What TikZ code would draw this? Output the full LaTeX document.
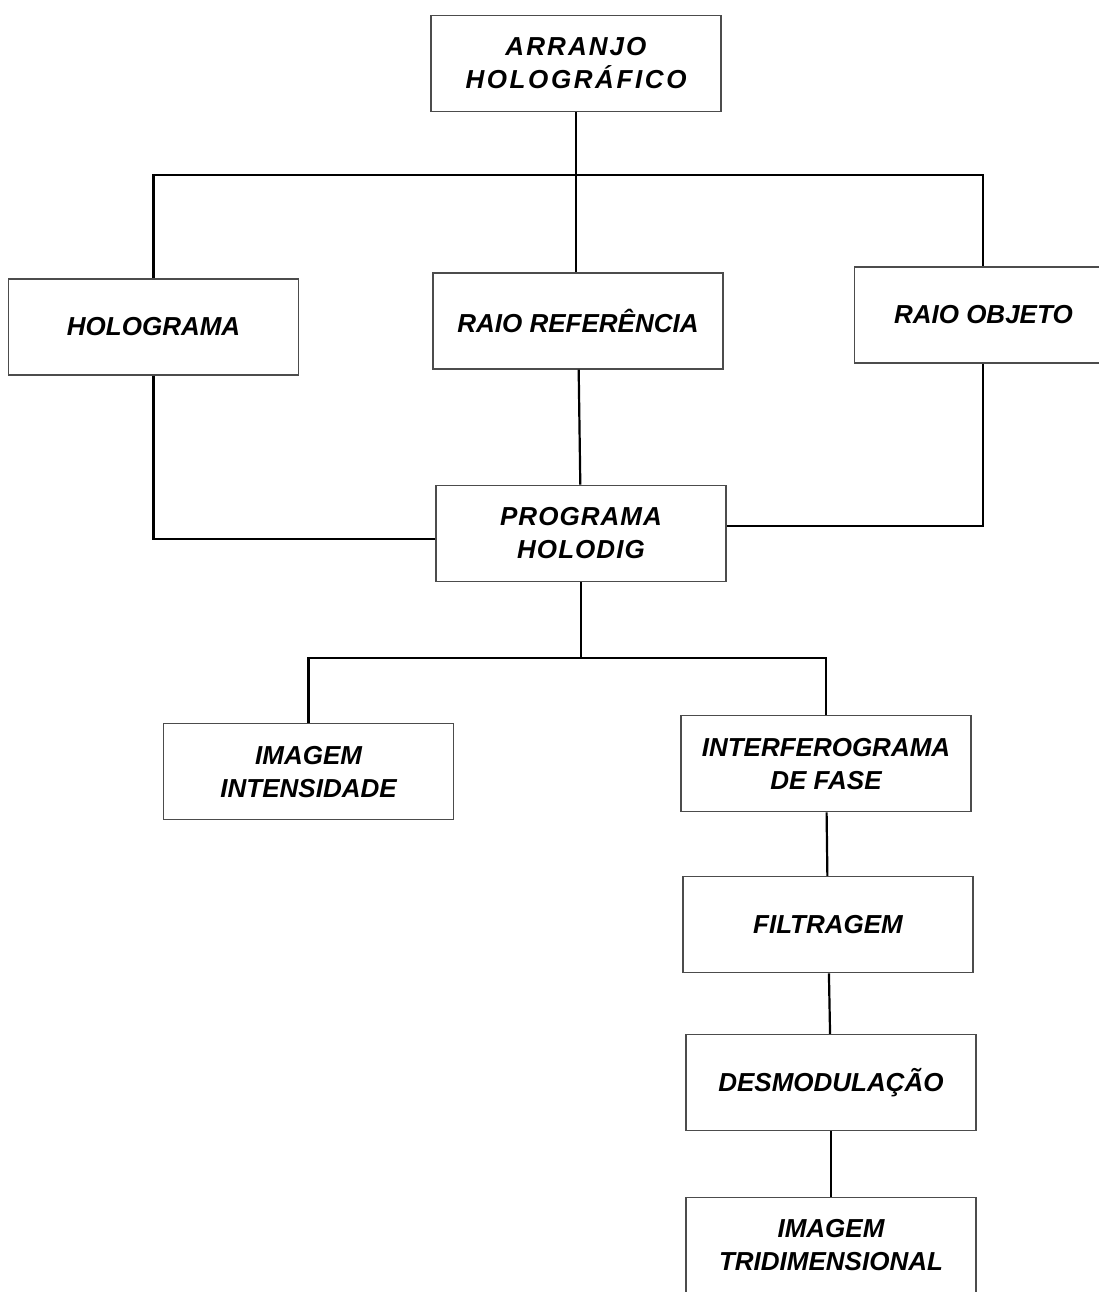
\documentclass[tikz,border=0pt]{standalone}
\usepackage{fontspec}
\setmainfont{Liberation Sans}
\usepackage{tikz}
\usetikzlibrary{positioning,calc}

\begin{document}
\begin{tikzpicture}[
    blk/.style={rectangle, draw=black!70, line width=0.7pt, fill=white, minimum width=145pt, minimum height=48pt, inner sep=0pt, align=center, font=\bfseries\itshape\fontsize{13}{16.5}\selectfont},
    lnk/.style={line width=1.1pt, draw=black}
]
    \useasboundingbox (-288pt,31.75pt) rectangle (261.5pt,-614.25pt);

    % Top row
    \node (arr) [blk] {\addfontfeature{LetterSpace=8}ARRANJO\\\addfontfeature{LetterSpace=10}HOLOGRÁFICO};
    \node (rref) [blk, below=80pt of arr, xshift=1pt] {RAIO REFERÊNCIA};
    \node (holo) [blk, left=66.5pt of rref, yshift=-3pt] {HOLOGRAMA};
    \node (robj) [blk, minimum width=129pt, right=65pt of rref, yshift=3pt] {RAIO OBJETO};

    \node (prog) [blk, below=57.5pt of rref, xshift=1.5pt] {\addfontfeature{LetterSpace=4}PROGRAMA\\\addfontfeature{LetterSpace=4}HOLODIG};

    % Bottom branch
    \node (ifase) [blk, below=66.5pt of prog, xshift=122.5pt] {INTERFEROGRAMA\\DE FASE};
    \node (iint) [blk, left=113pt of ifase, yshift=-4pt] {IMAGEM\\INTENSIDADE};
    \node (filt) [blk, below=31.75pt of ifase, xshift=1pt] {FILTRAGEM};
    \node (desm) [blk, below=30.25pt of filt, xshift=1.5pt] {DESMODULAÇÃO};
    \node (itri) [blk, below=32.75pt of desm] {IMAGEM\\TRIDIMENSIONAL};

    \coordinate (topbus) at ([yshift=-31.5pt]arr.south);
    \coordinate (botbus) at ([yshift=-38pt]prog.south);

    \draw [lnk] (arr.south) -- (topbus);
    \draw [lnk] (holo.north) |- (topbus) -| (robj.north);
    \draw [lnk] (topbus) -- (rref.north -| topbus);
    \draw [lnk] (rref) -- (prog);
    \draw [lnk] (holo.south) |- ([yshift=-2.75pt]prog.west);
    \draw [lnk] (robj.south) |- ([yshift=3.5pt]prog.east);
    \draw [lnk] (prog.south) -- (botbus);
    \draw [lnk] (iint.north) |- (botbus) -| (ifase.north);
    \draw [lnk] (ifase) -- (filt);
    \draw [lnk] (filt) -- (desm);
    \draw [lnk] (desm) -- (itri);
\end{tikzpicture}
\end{document}
